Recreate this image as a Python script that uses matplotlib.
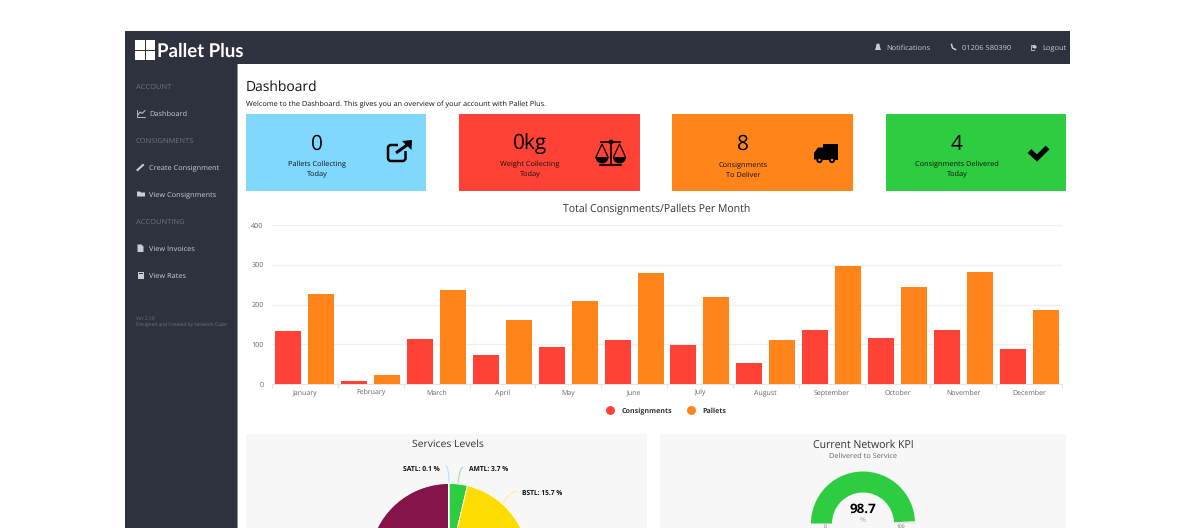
#!/usr/bin/env python3
import matplotlib
matplotlib.use("Agg")
import matplotlib.pyplot as plt
from matplotlib.lines import Line2D
from matplotlib.patches import Rectangle, Circle, Polygon, FancyBboxPatch, PathPatch, Wedge
from matplotlib.path import Path
import numpy as np

plt.rcParams['font.family'] = ['Open Sans', 'DejaVu Sans']
plt.rcParams['text.hinting'] = 'no_hinting'

W, H = 1200, 528

months = ["January", "February", "March", "April", "May", "June", "July",
          "August", "September", "October", "November", "December"]
consignments = [134, 8, 114, 73, 94, 111, 97, 53, 135, 116, 137, 88]
pallets = [226, 22, 236, 162, 210, 278, 219, 111, 296, 244, 283, 186]
y_ticks = [0, 100, 200, 300, 400]

card_values = ["0", "0kg", "8", "4"]
card_lines = [["Pallets Collecting", "Today"], ["Weight Collecting", "Today"],
              ["Consignments", "To Deliver"], ["Consignments Delivered", "Today"]]
card_colors = ["#80d8ff", "#ff4136", "#ff851b", "#2ecc40"]

# only the top of the pie is on screen, the two lower slices are a guess
pie_values = [3.7, 15.7, 40.5, 40.0, 0.1]
pie_colors = ["#2ecc40", "#ffdc00", "#3d9970", "#85144b", "#7fdbff"]
pie_labels = ["AMTL: 3.7 %", "BSTL: 15.7 %", "SATL: 0.1 %"]

kpi_value = 98.7

NAV = "#2e323f"
RED, ORANGE = "#ff4136", "#ff851b"


def px_axes(fig, left, top, width, height):
    return fig.add_axes([left / W, (H - top - height) / H, width / W, height / H])


fig = plt.figure(figsize=(W / 100, H / 100), dpi=100, facecolor="white")
ui = fig.add_axes([0, 0, 1, 1])
ui.set_xlim(0, W)
ui.set_ylim(H, 0)
ui.axis("off")

### page frame
ui.add_patch(Rectangle((125, 31), 113, H - 31, fc=NAV, ec="none"))
ui.add_patch(Rectangle((125, 31), 945, 33, fc=NAV, ec="none"))
ui.add_patch(Rectangle((237, 64), 1.2, H - 64, fc="#8a8e9a", ec="none"))
ui.add_patch(Rectangle((246, 434), 401, 94, fc="#f7f7f7", ec="none"))
ui.add_patch(Rectangle((660, 434), 406, 94, fc="#f7f7f7", ec="none"))

### logo
for x, w in ((134.5, 10), (146, 8.5)):
    for y, h in ((40, 10), (51.2, 8.8)):
        ui.add_patch(Rectangle((x, y), w, h, fc="white", ec="none"))
ui.text(157, 49.5, "Pallet Plus", color="white", fontsize=13.4, fontweight="bold",
        family="Lato", va="center_baseline", ha="left")

### sidebar
headings = [("ACCOUNT", 86), ("CONSIGNMENTS", 140), ("ACCOUNTING", 221)]
for s, y in headings:
    ui.text(136, y, s, color="#6e7280", fontsize=5.4, va="center_baseline")
links = [("Dashboard", 113), ("Create Consignment", 167), ("View Consignments", 194),
         ("View Invoices", 248), ("View Rates", 275)]
for s, y in links:
    ui.text(149, y, s, color="#c9ccd3", fontsize=5.35, va="center_baseline")
ui.text(136, 318, "Ver 2.10", color="#6e7280", fontsize=3.5, va="center_baseline")
ui.text(136, 324.5, "Designed and Created by Network Cube", color="#6e7280", fontsize=3.5, va="center_baseline")

ICON = "#c9ccd3"
ui.plot([136.5, 136.5, 145], [109.5, 116.5, 116.5], color=ICON, lw=0.6)
ui.plot([138, 140, 142, 145], [115, 112, 113.5, 110.5], color=ICON, lw=0.7)
ui.plot([137.5, 143], [170, 165], color=ICON, lw=1.5)
ui.add_patch(Polygon([(137, 191.5), (140, 191.5), (141, 192.5), (145, 192.5), (145, 196.5), (137, 196.5)], fc=ICON, ec="none"))
ui.add_patch(Polygon([(137.5, 244.5), (141.5, 244.5), (143.5, 246.5), (143.5, 252), (137.5, 252)], fc=ICON, ec="none"))
ui.add_patch(Rectangle((137.5, 271.5), 6.5, 7.5, fc=ICON, ec="none"))
ui.add_patch(Rectangle((138.5, 272.5), 4.5, 1.6, fc=NAV, ec="none"))

### top nav
ui.text(886, 47, "Notifications", color="#c9ccd3", fontsize=5.4, va="center_baseline")
ui.text(962, 47, "01206 580390", color="#c9ccd3", fontsize=5.4, va="center_baseline")
ui.text(1042, 47, "Logout", color="#c9ccd3", fontsize=5.4, va="center_baseline")
ui.add_patch(Polygon([(875, 50), (876, 47), (876.5, 44), (878, 43.5), (879.5, 44), (880, 47), (881, 50)], fc=ICON, ec="none"))
ui.plot([951.5, 952.5, 955.5], [44.5, 48, 49.5], color=ICON, lw=1.1)
ui.plot([1034, 1031, 1031, 1034], [44.5, 44.5, 49.5, 49.5], color=ICON, lw=0.6)
ui.add_patch(Polygon([(1032.5, 46), (1034.5, 46), (1034.5, 44.5), (1037, 47), (1034.5, 49.5), (1034.5, 48), (1032.5, 48)], fc=ICON, ec="none"))

### heading
ui.text(246, 85.5, "Dashboard", color="#111111", fontsize=10, va="center_baseline")
ui.text(246, 103.5, "Welcome to the Dashboard. This gives you an overview of your account with Pallet Plus.",
        color="#111111", fontsize=5.3, va="center_baseline")

### summary cards
card_x = [246, 459, 672, 886]
card_w = [180, 181, 181, 180]
card_c = [317, 530, 743, 957]
for i in range(4):
    ui.add_patch(Rectangle((card_x[i], 114), card_w[i], 77, fc=card_colors[i], ec="none"))
    ui.text(card_c[i], 142, card_values[i], color="black", fontsize=15, ha="center", va="center_baseline")
    ui.text(card_c[i], 164, card_lines[i][0], color="#111111", fontsize=5.35, ha="center", va="center_baseline")
    ui.text(card_c[i], 174, card_lines[i][1], color="#111111", fontsize=5.35, ha="center", va="center_baseline")

# share icon
ui.add_patch(FancyBboxPatch((388, 145), 17.5, 16, boxstyle="round,pad=0,rounding_size=3",
                            fc="none", ec="black", lw=1.8))
ui.add_patch(Rectangle((398, 140), 16, 11, fc=card_colors[0], ec="none"))
ui.plot([396, 407], [153, 145], color="black", lw=2.2, solid_capstyle="butt")
ui.add_patch(Polygon([(402, 141), (412, 140), (411.5, 150)], fc="black", ec="none"))
# scales icon
ui.plot([610.5, 610.5], [142, 164], color="black", lw=1.2)
ui.plot([600, 621], [164.5, 164.5], color="black", lw=1.2)
ui.plot([601, 620], [142, 142], color="black", lw=1.2)
ui.add_patch(Circle((611, 142), 1.8, fc=card_colors[1], ec="black", lw=0.8))
for c in (602, 619.5):
    ui.plot([c - 6, c, c + 6], [157, 144, 157], color="black", lw=0.9)
    ui.add_patch(Wedge((c, 157), 6.5, 0, 180, fc="black", ec="none"))
# truck icon
ui.add_patch(Rectangle((823, 144), 15, 15.5, fc="black", ec="none"))
ui.add_patch(Polygon([(814, 159.5), (814, 153), (818, 147.5), (823, 147.5), (823, 159.5)], fc="black", ec="none"))
for x in (819.5, 832):
    ui.add_patch(Circle((x, 160), 3.1, fc="black", ec="none"))
    ui.add_patch(Circle((x, 160), 1.2, fc=card_colors[2], ec="none"))
# check icon
ui.plot([1029.5, 1037, 1047.5], [151, 158, 147.5], color="black", lw=3.8, solid_joinstyle="miter", solid_capstyle="butt")

### bar chart
ax = px_axes(fig, 272, 225, 790, 159)
ax.patch.set_alpha(0)
x = np.arange(len(months))
ax.bar(x - 0.25, consignments, 0.395, color=RED, zorder=3)
ax.bar(x + 0.25, pallets, 0.395, color=ORANGE, zorder=3)
ax.set_xlim(-0.5, len(months) - 0.5)
ax.set_ylim(0, 400)
ax.set_yticks(y_ticks)
ax.set_xticks(x, months, va="baseline")
ax.set_xticks(np.arange(len(months) + 1) - 0.5, minor=True)
ax.grid(axis="y", color="#efefef", lw=0.9, zorder=0)
for s in ("top", "right", "left"):
    ax.spines[s].set_visible(False)
ax.spines["bottom"].set_color("#e0e3ee")
ax.spines["bottom"].set_linewidth(0.8)
ax.tick_params(axis="x", which="major", length=0, pad=7.55, labelsize=5.0, labelcolor="#666666")
ax.tick_params(axis="x", which="minor", length=3.2, width=0.7, color="#e0e3ee")
ax.tick_params(axis="y", length=0, pad=6, labelsize=5.2, labelcolor="#666666")
ax.set_title("Total Consignments/Pallets Per Month", fontsize=7.6, color="#333333", pad=9, x=0.487)
handles = [Line2D([], [], ls="none", marker="o", ms=5.4, color=RED, label="Consignments"),
           Line2D([], [], ls="none", marker="o", ms=5.4, color=ORANGE, label="Pallets")]
leg = ax.legend(handles=handles, ncols=2, loc="center", bbox_to_anchor=(0.4985, -0.17), frameon=False,
                prop={"size": 5.15, "weight": "bold"}, handletextpad=0.9, columnspacing=1.9, handlelength=1.4)
for t in leg.get_texts():
    t.set_color("#333333")

### services levels pie, cut off by the bottom of the page
ui.text(448, 443.5, "Services Levels", color="#333333", fontsize=7.5, ha="center", va="center_baseline")
r = 80
pie_ax = px_axes(fig, 449 - r, 483.5, 2 * r, 2 * r)
pie_ax.pie(pie_values, colors=pie_colors, startangle=90, counterclock=False, radius=1,
           wedgeprops={"edgecolor": "white", "linewidth": 0.6})
pie_ax.set_xlim(-1, 1)
pie_ax.set_ylim(-1, 1)
ui.text(440, 468, pie_labels[2], fontsize=4.9, fontweight="bold", ha="right", va="center_baseline", color="#111111")
ui.text(469, 468, pie_labels[0], fontsize=4.8, fontweight="bold", ha="left", va="center_baseline", color="#111111")
ui.text(522, 492, pie_labels[1], fontsize=4.8, fontweight="bold", ha="left", va="center_baseline", color="#111111")
for verts, c in [([(446, 466), (449, 467), (449, 484)], "#a5e3f7"),
                 ([(463, 467), (459.5, 468), (458, 484)], "#8fdf98"),
                 ([(517, 491), (510, 492), (502, 504)], "#ffec8a")]:
    ui.add_patch(PathPatch(Path(verts, [Path.MOVETO, Path.CURVE3, Path.CURVE3]), fc="none", ec=c, lw=0.7))

### KPI gauge, the hidden half of the ring sits below its base line
ui.text(863, 443.5, "Current Network KPI", color="#333333", fontsize=7.6, ha="center", va="center_baseline")
ui.text(863, 455.5, "Delivered to Service", color="#666666", fontsize=5.3, ha="center", va="center_baseline")
R = 52
gauge_ax = px_axes(fig, 863 - R, 471.5, 2 * R, 2 * R)
gauge_ax.patch.set_visible(False)
wedges, _ = gauge_ax.pie([kpi_value, 100 - kpi_value, 100], colors=["#2ecc40", "#e6e6e6", "none"],
                         startangle=180, counterclock=False, radius=1, wedgeprops={"width": 21 / R})
gauge_ax.set_xlim(-1, 1)
gauge_ax.set_ylim(-1, 1)
ui.text(863, 508, f"{kpi_value}", color="black", fontsize=9.6, fontweight="bold", ha="center", va="center_baseline", zorder=5)
ui.text(863, 519, "%", color="#aaaaaa", fontsize=5.4, ha="center", va="center_baseline", zorder=5)
ui.text(825, 526, "0", color="#666666", fontsize=3.6, ha="center", va="center_baseline")
ui.text(901, 526, "100", color="#666666", fontsize=3.6, ha="center", va="center_baseline")

fig.savefig("out.png", dpi=100)
